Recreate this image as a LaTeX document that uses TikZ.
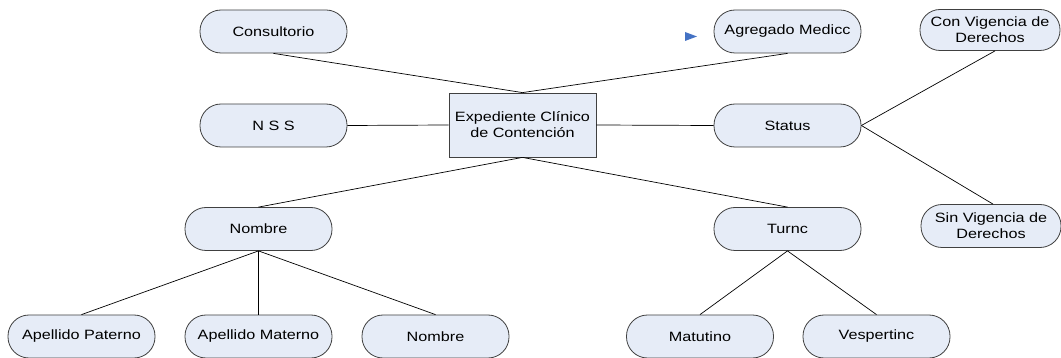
\documentclass[tikz,border=0pt]{standalone}
\usepackage{fontspec}
\setmainfont{Liberation Sans}[FakeStretch=1.2]
\begin{document}
\begin{tikzpicture}[x=1pt,y=-1pt,
  every node/.style={font=\fontsize{13.5}{16}\selectfont, align=center, inner sep=0pt},
  attr/.style={draw=black!75, fill=entfill, line width=0.8pt, rectangle,
    rounded corners=21pt, minimum width=147pt, minimum height=43pt},
  entity/.style={draw=black!75, fill=entfill, line width=0.8pt, rectangle,
    minimum width=147pt, minimum height=64pt},
  link/.style={draw=black, line width=0.7pt}]
\definecolor{entfill}{HTML}{E6ECF7}
\definecolor{tipblue}{HTML}{4472C4}
\useasboundingbox (0,0) rectangle (1061,358);

% central entity
\node[entity] (exp) at (522.5,125) {Expediente Clínico\\de Contención};

% first ring of attributes
\node[attr] (cons) at (273.5,31.5) {Consultorio};
\node[attr] (agr)  at (787.5,31.5) {Agregado Medicc};
\node[attr] (nss)  at (273.5,125.5) {N S S};
\node[attr] (stat) at (787.5,125.5) {Status};
\node[attr] (nom)  at (258.5,229) {Nombre};
\node[attr] (tur)  at (787.5,229) {Turnc};

% status values
\node[attr, minimum width=140pt, minimum height=41pt, rounded corners=20pt] (cv) at (990,30) {Con Vigencia de\\Derechos};
\node[attr, minimum width=140pt, minimum height=43pt, rounded corners=21pt] (sv) at (991,226) {Sin Vigencia de\\Derechos};

% name parts
\node[attr] (ap) at (81.5,336.5) {Apellido Paterno};
\node[attr] (am) at (258.5,336.5) {Apellido Materno};
\node[attr] (nb) at (435.5,336.5) {Nombre};

% shifts
\node[attr] (mat) at (700,336.5) {Matutino};
\node[attr] (ves) at (876.5,336.5) {Vespertinc};

% connectors
\draw[link] (cons.south) -- (exp.north);
\draw[link] (agr.south) -- (exp.north);
\draw[link] (nss.east) -- (exp.west);
\draw[link] (exp.east) -- (stat.east -| stat.west);
\draw[link] (stat.east) -- ([xshift=5pt]cv.south);
\draw[link] (stat.east) -- ([xshift=2pt]sv.north);
\draw[link] (exp.south) -- (nom.north);
\draw[link] (exp.south) -- (tur.north);
\draw[link] (nom.south) -- (ap.north);
\draw[link] (nom.south) -- (am.north);
\draw[link] (nom.south) -- (nb.north);
\draw[link] (tur.south) -- (mat.north);
\draw[link] (tur.south) -- (ves.north);

% small arrow tip beside the medical attachment
\coordinate (tip) at (697,36.5);
\fill[tipblue] (tip) -- ++(-12,-4.5) -- ++(0,9) -- cycle;
\end{tikzpicture}
\end{document}
